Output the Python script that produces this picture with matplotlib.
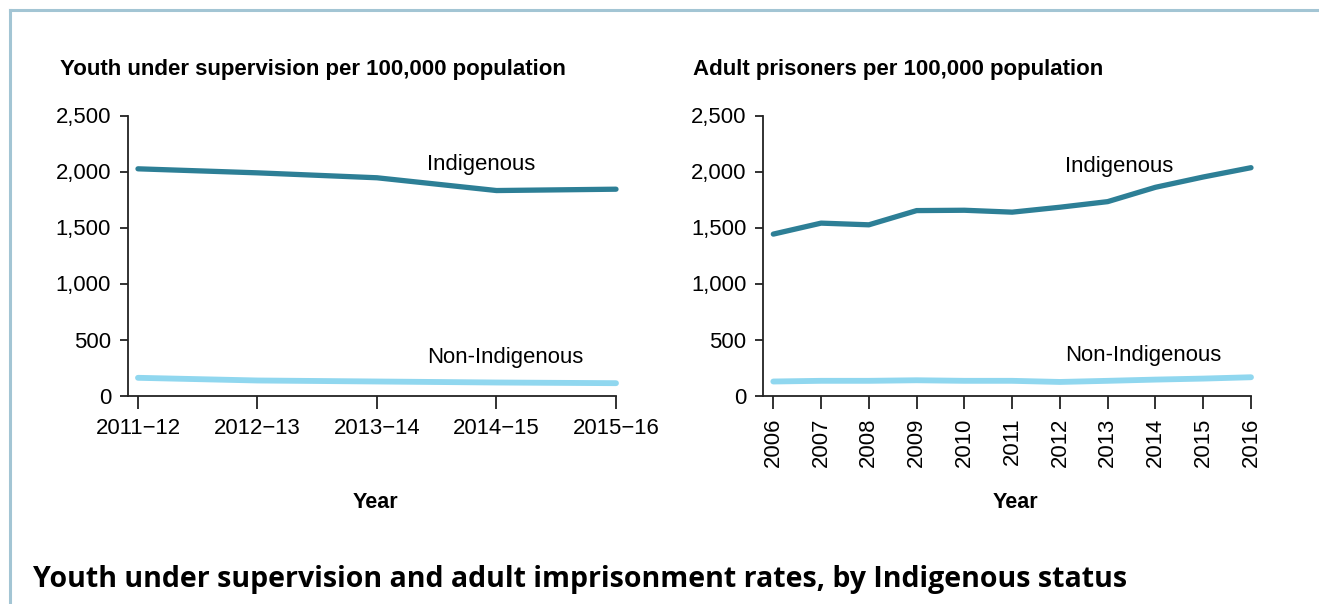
import matplotlib
matplotlib.use("Agg")
import matplotlib.pyplot as plt
from matplotlib.lines import Line2D

# --- data ---
youth_periods = ["2011\u221212", "2012\u221213", "2013\u221214", "2014\u221215", "2015\u221216"]
youth_indigenous = [2024, 1988, 1944, 1830, 1842]
youth_non_indigenous = [158, 134, 125, 116, 110]

adult_years = [2006, 2007, 2008, 2009, 2010, 2011, 2012, 2013, 2014, 2015, 2016]
adult_indigenous = [1441, 1539, 1524, 1651, 1654, 1637, 1681, 1731, 1859, 1951, 2034]
adult_non_indigenous = [125, 131, 131, 136, 131, 131, 121, 131, 142, 151, 163]

y_ticks = [0, 500, 1000, 1500, 2000, 2500]

W, H = 1319, 604
DARK = "#2d7f96"
LIGHT = "#90d7ef"
FRAME = "#a3c5d4"
FS = 15.9

plt.rcParams["font.family"] = ["Liberation Sans", "DejaVu Sans"]

fig = plt.figure(figsize=(W / 100, H / 100), dpi=100)


def px_axes(x0, x1, ytop, ybot):
    return fig.add_axes([x0 / W, 1 - ybot / H, (x1 - x0) / W, (ybot - ytop) / H])


def style(ax):
    for s in ["top", "right"]:
        ax.spines[s].set_visible(False)
    for s in ["left", "bottom"]:
        ax.spines[s].set_linewidth(1.3)
        ax.spines[s].set_color("#222222")
    ax.set_ylim(0, 2500)
    ax.set_yticks(y_ticks)
    ax.set_yticklabels([f"{v:,}" for v in y_ticks])
    ax.tick_params(axis="y", length=6, width=1.3, pad=6, labelsize=FS, color="#222222")
    ax.tick_params(axis="x", length=9, width=1.3, pad=7, labelsize=FS, color="#222222")
    ax.patch.set_alpha(0)


# left panel: youth under supervision
ax1 = px_axes(127.7, 616, 115.5, 395.5)
style(ax1)
xs = list(range(len(youth_periods)))
ax1.plot(xs, youth_indigenous, color=DARK, lw=3.8, solid_capstyle="round", clip_on=False)
ax1.plot(xs, youth_non_indigenous, color=LIGHT, lw=4.2, solid_capstyle="round", clip_on=False)
ax1.set_xlim(-0.086, 4)
ax1.set_xticks(xs)
ax1.set_xticklabels(youth_periods)
ax1.text(2.42, 2017, "Indigenous", fontsize=FS, va="baseline", ha="left")
ax1.text(2.42, 289, "Non-Indigenous", fontsize=FS, va="baseline", ha="left")

# right panel: adult prisoners
ax2 = px_axes(763, 1251, 115.5, 395.5)
style(ax2)
ax2.plot(adult_years, adult_indigenous, color=DARK, lw=3.8, solid_capstyle="round", clip_on=False)
ax2.plot(adult_years, adult_non_indigenous, color=LIGHT, lw=4.2, solid_capstyle="round", clip_on=False)
ax2.set_xlim(2005.784, 2016)
ax2.set_xticks(adult_years)
ax2.set_xticklabels([str(y) for y in adult_years], rotation=90)
ax2.text(2012.11, 1999, "Indigenous", fontsize=FS, va="baseline", ha="left")
ax2.text(2012.11, 310, "Non-Indigenous", fontsize=FS, va="baseline", ha="left")

# panel titles and axis titles
fig.text(60 / W, 1 - 75 / H, "Youth under supervision per 100,000 population",
         fontsize=16.0, fontweight="bold", va="baseline", ha="left")
fig.text(693 / W, 1 - 75 / H, "Adult prisoners per 100,000 population",
         fontsize=16.0, fontweight="bold", va="baseline", ha="left")
fig.text(375 / W, 1 - 508 / H, "Year", fontsize=15.5, fontweight="bold", va="baseline", ha="center")
fig.text(1015 / W, 1 - 508 / H, "Year", fontsize=15.5, fontweight="bold", va="baseline", ha="center")

# main caption
fig.text(33 / W, 1 - 587 / H,
         "Youth under supervision and adult imprisonment rates, by Indigenous status",
         fontsize=20.5, fontweight="bold", family=["Open Sans", "DejaVu Sans"],
         va="baseline", ha="left")

# light frame: top and left edges
fig.add_artist(Line2D([10 / W, 1], [1 - 10 / H, 1 - 10 / H], color=FRAME, lw=2.2,
                      transform=fig.transFigure))
fig.add_artist(Line2D([10 / W, 10 / W], [0, 1 - 10 / H], color=FRAME, lw=2.2,
                      transform=fig.transFigure))

fig.savefig("out.png", dpi=100)
